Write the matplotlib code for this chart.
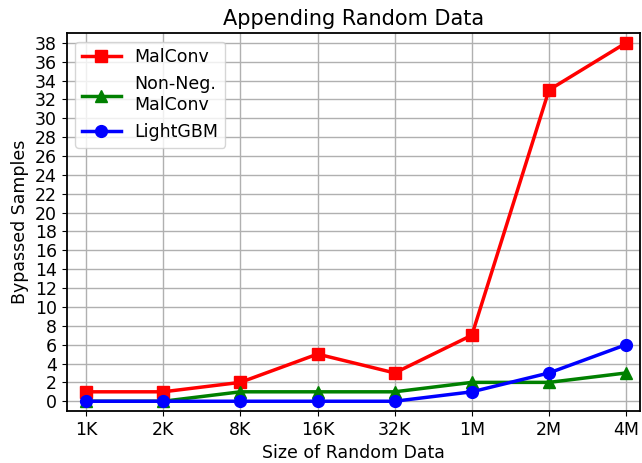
import matplotlib.pyplot as plt

sizes = ['1K', '2K', '8K', '16K', '32K', '1M', '2M', '4M']
malconv = [1, 1, 2, 5, 3, 7, 33, 38]
nonneg = [0, 0, 1, 1, 1, 2, 2, 3]
lightgbm = [0, 0, 0, 0, 0, 1, 3, 6]

plt.rcParams['font.size'] = 12.5

fig = plt.figure(figsize=(6.42, 4.63), dpi=100)
ax = fig.add_axes([0.104, 0.112, 0.893, 0.817])

x = range(len(sizes))
ax.plot(x, malconv, color='red', marker='s', lw=2.5, ms=8.5, label='MalConv')
ax.plot(x, nonneg, color='green', marker='^', lw=2.5, ms=8.5, label='Non-Neg.\nMalConv')
ax.plot(x, lightgbm, color='blue', marker='o', lw=2.5, ms=8.5, label='LightGBM')

ax.set_xticks(list(x))
ax.set_xticklabels(sizes)
ax.set_yticks(range(0, 39, 2))
ax.set_ylim(-1.05, 39.05)
ax.set_xlim(-0.25, 7.18)
ax.grid(True, lw=1)
ax.set_axisbelow(True)
for s in ax.spines.values():
    s.set_linewidth(1.3)

ax.set_xlabel('Size of Random Data')
ax.set_ylabel('Bypassed Samples')
ax.set_title('Appending Random Data')
ax.legend(loc='upper left', handlelength=2.2)

plt.savefig('out.png', dpi=100)
